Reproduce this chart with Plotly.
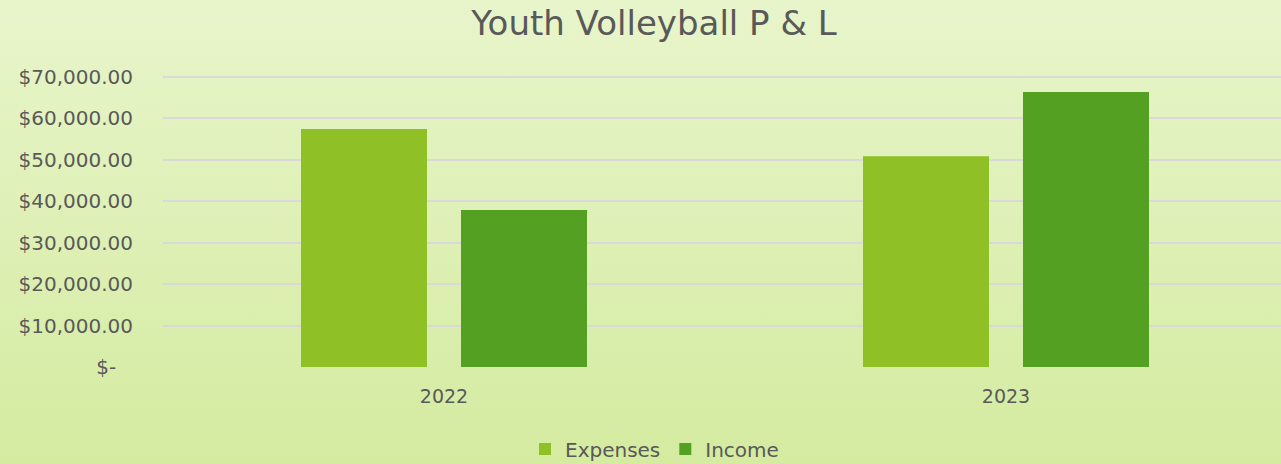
import base64
import plotly.graph_objects as go

years = ["2022", "2023"]
expenses = [57450, 50900]
income = [37900, 66400]
tick_vals = [0, 10000, 20000, 30000, 40000, 50000, 60000, 70000]
tick_text = ["$-\u2007\u2009", "$10,000.00", "$20,000.00", "$30,000.00", "$40,000.00",
             "$50,000.00", "$60,000.00", "$70,000.00"]

W, H = 1281, 464
ML, MR, MT, MB = 163, 0, 76, 97
pw, ph = W - ML - MR, H - MT - MB

svg = ('<svg xmlns="http://www.w3.org/2000/svg" width="100" height="100" preserveAspectRatio="none">'
       '<defs><linearGradient id="g" x1="0" y1="0" x2="0" y2="1">'
       '<stop offset="0" stop-color="#e8f5cb"/><stop offset="1" stop-color="#d4eba0"/>'
       '</linearGradient></defs><rect width="100" height="100" fill="url(#g)"/></svg>')
bg = "data:image/svg+xml;base64," + base64.b64encode(svg.encode()).decode()

font = "'DejaVu Sans', 'Open Sans', sans-serif"
fig = go.Figure()
fig.add_trace(go.Bar(name="Expenses", x=years, y=expenses, marker_color="#8fc126",
                     marker_line_width=0))
fig.add_trace(go.Bar(name="Income", x=years, y=income, marker_color="#54a022",
                     marker_line_width=0))

fig.update_layout(
    width=W, height=H, autosize=False,
    margin=dict(l=ML, r=MR, t=MT, b=MB, pad=0),
    paper_bgcolor="rgba(0,0,0,0)", plot_bgcolor="rgba(0,0,0,0)",
    barmode="group", bargap=0.4306, bargroupgap=0.2125,
    title=dict(text="Youth Volleyball P & L", x=654 / W, xanchor="center",
               y=1 - 23 / H, yanchor="middle",
               font=dict(family=font, size=34, color="#595959")),
    font=dict(family=font, size=18, color="#595959"),
    xaxis=dict(range=[-0.5, -0.5 + pw / 562], showgrid=False, zeroline=False,
               showline=False, ticks="", ticklabelstandoff=16, automargin=False,
               tickfont=dict(size=19, color="#595959")),
    yaxis=dict(range=[0, 70250], tickvals=tick_vals, ticktext=tick_text,
               showgrid=True, gridcolor="#d9d9d9", gridwidth=2, zeroline=False,
               showline=False, ticks="", ticklabelstandoff=29, automargin=False,
               tickfont=dict(size=20, color="#595959")),
    legend=dict(orientation="h", xref="container", yref="container",
                x=525 / W, xanchor="left", y=1 - 449 / H,
                yanchor="middle", font=dict(size=20, color="#595959"),
                bgcolor="rgba(0,0,0,0)", borderwidth=0, itemwidth=30, tracegroupgap=0),
    images=[dict(source=bg, xref="paper", yref="paper", x=-ML / pw, y=1 + MT / ph,
                 sizex=W / pw, sizey=H / ph, sizing="stretch", layer="below",
                 xanchor="left", yanchor="top")],
)
fig.write_html("out.html", config={"responsive": False, "displayModeBar": False},
               post_script="document.body.style.margin='0';document.body.style.overflow='hidden';")
